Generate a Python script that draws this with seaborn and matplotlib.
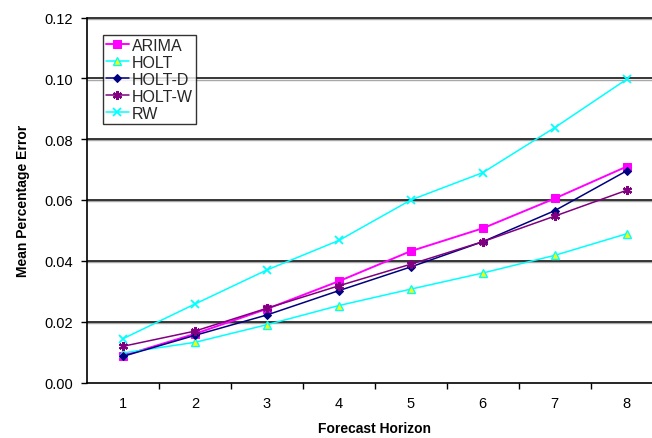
import matplotlib
matplotlib.use("Agg")
import matplotlib.pyplot as plt
import matplotlib.transforms as mtransforms
import seaborn as sns
import pandas as pd
from matplotlib.ticker import FixedLocator

sns.set_theme(style="white")
plt.rcParams["font.family"] = ["Liberation Sans", "DejaVu Sans"]

horizon = [1, 2, 3, 4, 5, 6, 7, 8]
arima = [0.0088, 0.0160, 0.0242, 0.0333, 0.0432, 0.0507, 0.0605, 0.0710]
holt = [0.0097, 0.0132, 0.0190, 0.0253, 0.0307, 0.0360, 0.0418, 0.0489]
holt_d = [0.0086, 0.0155, 0.0222, 0.0302, 0.0380, 0.0463, 0.0565, 0.0696]
holt_w = [0.0119, 0.0169, 0.0244, 0.0318, 0.0389, 0.0463, 0.0547, 0.0632]
rw = [0.0144, 0.0258, 0.0370, 0.0467, 0.0600, 0.0690, 0.0838, 0.0997]

y_ticks = [0.00, 0.02, 0.04, 0.06, 0.08, 0.10, 0.12]

series = [
    ("ARIMA", arima, dict(color="#FF00FF", marker="s", markersize=5.5, lw=1.4,
                          markerfacecolor="#FF00FF", markeredgecolor="#FF00FF")),
    ("HOLT", holt, dict(color="#00FFFF", marker="^", markersize=5.8, lw=1.1,
                        markerfacecolor="#FFFF00", markeredgecolor="#00FFFF",
                        markeredgewidth=1.0)),
    ("HOLT-D", holt_d, dict(color="#000080", marker="D", markersize=4.5, lw=1.1,
                            markerfacecolor="#000080", markeredgecolor="#000080")),
    ("HOLT-W", holt_w, dict(color="#800080", marker=(6, 2, 0), markersize=6.5, lw=1.1,
                            markerfacecolor="#800080", markeredgecolor="#800080",
                            markeredgewidth=1.6)),
    ("RW", rw, dict(color="#00FFFF", marker="x", markersize=5.5, lw=1.1,
                    markeredgecolor="#00FFFF", markeredgewidth=1.3)),
]

fig = plt.figure(figsize=(6.52, 4.39), dpi=100)
ax = fig.add_axes([87 / 652, 55.5 / 439, (662.7 - 87) / 652, (383.5 - 18.5) / 439])

# horizontal gridlines: black line with a faint grey edge just beneath
shadow = ax.get_yaxis_transform() + mtransforms.ScaledTranslation(0, -1.2 / 100, fig.dpi_scale_trans)
for gy in y_ticks[1:]:
    ax.plot([0, 1], [gy, gy], color="#A8A8A8", lw=1.0, zorder=0.5, transform=shadow)
    ax.plot([0, 1], [gy, gy], color="black", lw=1.1, zorder=1,
            transform=ax.get_yaxis_transform(), clip_on=False)

for name, vals, style in series:
    df = pd.DataFrame({"h": horizon, "v": vals})
    sns.lineplot(data=df, x="h", y="v", ax=ax, label=name, zorder=3, **style)

ax.set_xlim(0.5, 8.5)
ax.set_ylim(0, 0.12)
ax.set_yticks(y_ticks)
ax.set_yticklabels([f"{t:.2f}" for t in y_ticks])
ax.set_xticks(horizon)
ax.set_xticklabels([str(h) for h in horizon])
ax.xaxis.set_minor_locator(FixedLocator([1.5, 2.5, 3.5, 4.5, 5.5, 6.5, 7.5]))

ax.tick_params(axis="x", which="major", length=0, pad=10, labelsize=10.5, colors="black")
ax.tick_params(axis="x", which="minor", bottom=True, length=4, width=1, color="black", direction="out")
ax.tick_params(axis="y", which="major", left=True, length=4, width=1, color="black",
               direction="out", pad=6, labelsize=10.5, labelcolor="black")

for s in ["top", "right"]:
    ax.spines[s].set_visible(False)
for s in ["left", "bottom"]:
    ax.spines[s].set_visible(True)
    ax.spines[s].set_color("black")
    ax.spines[s].set_linewidth(1.2)

ax.set_xlabel("Forecast Horizon", fontweight="bold", fontsize=10, labelpad=8, color="black")
ax.set_ylabel("Mean Percentage Error", fontweight="bold", fontsize=10, labelpad=10, color="black")

leg = ax.legend(loc="upper left", bbox_to_anchor=((103 - 87) / 575.7, (383.5 - 35.5) / 365),
                frameon=True, fancybox=False, shadow=False, fontsize=11.5,
                handlelength=1.4, handletextpad=0.2, borderpad=0.2, labelspacing=0.13,
                borderaxespad=0)
leg.get_frame().set_edgecolor("black")
leg.get_frame().set_linewidth(1.0)
leg.get_frame().set_facecolor("white")
leg.set_zorder(5)

fig.savefig("out.png", dpi=100)
